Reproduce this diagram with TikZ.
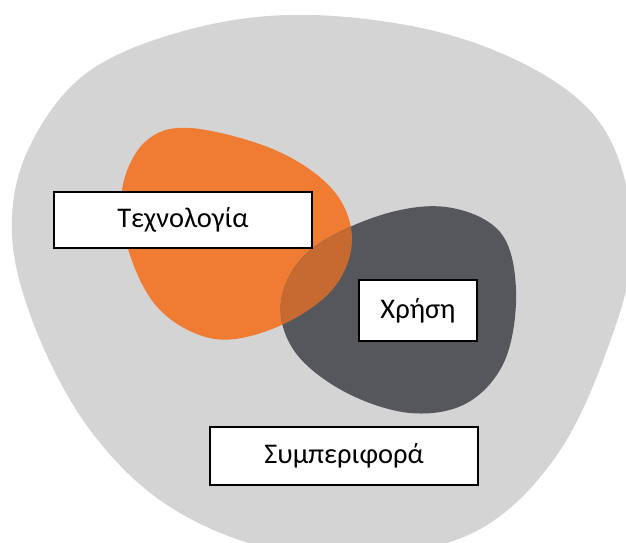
\documentclass[tikz,border=0pt]{standalone}
\usepackage{fontspec}
\setmainfont{Carlito}
\definecolor{bgray}{HTML}{D4D4D4}
\definecolor{orng}{HTML}{F07B33}
\definecolor{dgray}{HTML}{56575C}
\definecolor{ovl}{HTML}{C66A31}
\newcommand{\orangeblob}{plot[smooth cycle, tension=0.6] coordinates {(190,128) (275,150) (333,190) (352,240) (332,290) (277,327) (215,339) (160,310) (129,252) (122,190) (145,142)}}
\newcommand{\darkblob}{plot[smooth cycle, tension=0.6] coordinates {(446,207) (500,232) (516,290) (505,360) (467,403) (410,413) (345,392) (295,352) (281,302) (308,252) (378,216)}}
\begin{document}
\begin{tikzpicture}[x=1pt, y=-1pt,
  labelbox/.style={draw=black, line width=1.5pt, fill=white, inner sep=0pt,
    font=\fontsize{28.5}{33}\selectfont, text=black}]
\useasboundingbox (0,0) rectangle (626,543);
\begin{scope}
\clip (0,0) rectangle (626,543);
\fill[bgray] plot[smooth cycle, tension=0.6] coordinates {(313,15) (450,35) (560,85) (615,150) (632,250) (607,350) (557,455) (482,528) (380,556) (270,549) (167,505) (90,430) (36,330) (12,235) (28,150) (88,72) (195,28)};
\end{scope}
\fill[orng] \orangeblob;
\fill[dgray] \darkblob;
\begin{scope}
\clip \orangeblob;
\fill[ovl] \darkblob;
\end{scope}
\node[labelbox, minimum width=258pt, minimum height=56pt] (tech) at (183,220) {Τεχνολογία};
\node[labelbox, minimum width=118pt, minimum height=61pt] (use) at (418,310.5) {Χρήση};
\node[labelbox, minimum width=268pt, minimum height=58pt] (beh) at (344,456) {Συμπεριφορά};
\end{tikzpicture}
\end{document}
